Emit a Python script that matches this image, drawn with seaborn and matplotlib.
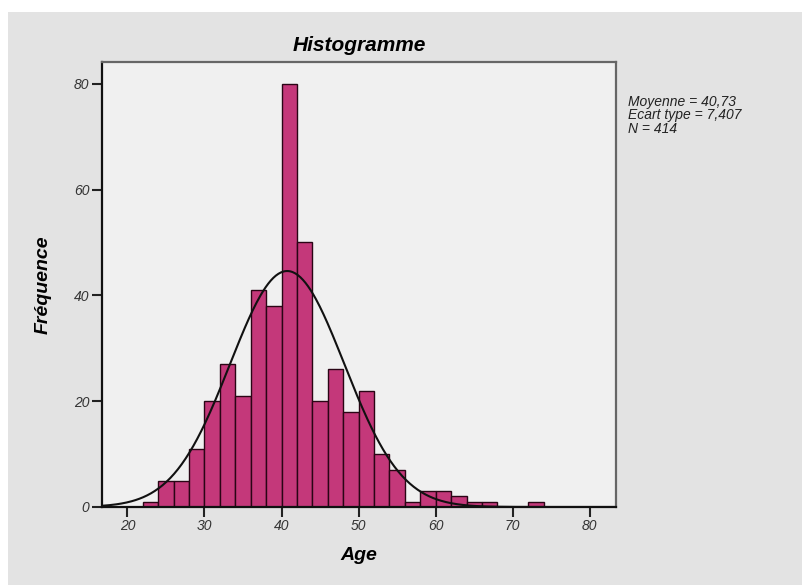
import numpy as np
import pandas as pd
import matplotlib
matplotlib.use("Agg")
import matplotlib.pyplot as plt
import seaborn as sns
from matplotlib.patches import Rectangle

# Data
bin_left = [22, 24, 26, 28, 30, 32, 34, 36, 38, 40, 42, 44, 46, 48, 50,
            52, 54, 56, 58, 60, 62, 64, 66, 68, 70, 72]
counts = [1, 5, 5, 11, 20, 27, 21, 41, 38, 80, 50, 20, 26, 18, 22,
          10, 7, 1, 3, 3, 2, 1, 1, 0, 0, 1]
bin_width = 2
mean_age = 40.73
sd_age = 7.407
n_obs = 414
x_ticks = [20, 30, 40, 50, 60, 70, 80]
y_ticks = [0, 20, 40, 60, 80]

sns.set_style("white")
plt.rcParams['font.family'] = ['Liberation Sans', 'DejaVu Sans']

df = pd.DataFrame({"Age": [b + bin_width / 2 for b in bin_left], "n": counts})
edges = bin_left + [bin_left[-1] + bin_width]

fig = plt.figure(figsize=(8.03, 5.85), dpi=100)
fig.patch.set_facecolor("white")
fig.patches.append(Rectangle((8 / 803, 0), 1, 1 - 12 / 585, transform=fig.transFigure,
                             facecolor="#e3e3e3", edgecolor="none", zorder=-10))

ax = fig.add_axes([102 / 803, 1 - 507 / 585, (616 - 102) / 803, (507 - 62) / 585])
ax.set_facecolor("#f0f0f0")

sns.histplot(data=df, x="Age", weights="n", bins=edges, ax=ax,
             color="#c4387a", alpha=1, edgecolor="#2a0515", linewidth=1.0)

# Normal curve from the stated statistics
xs = np.linspace(16.7, 83.4, 400)
ys = n_obs * bin_width / (sd_age * np.sqrt(2 * np.pi)) * np.exp(-0.5 * ((xs - mean_age) / sd_age) ** 2)
sns.lineplot(x=xs, y=ys, ax=ax, color="#111111", linewidth=1.5)

ax.set_xlim(16.7, 83.4)
ax.set_ylim(0, 84.1)
ax.set_xticks(x_ticks)
ax.set_yticks(y_ticks)
ax.set_xticklabels([str(t) for t in x_ticks], fontstyle="italic", fontsize=10, color="#333333")
ax.set_yticklabels([str(t) for t in y_ticks], fontstyle="italic", fontsize=10, color="#333333")
ax.tick_params(axis="both", direction="out", length=7, width=1.5, color="#222222", pad=2,
               bottom=True, left=True)

for s in ["left", "bottom"]:
    ax.spines[s].set_color("#111111")
    ax.spines[s].set_linewidth(1.6)
for s in ["top", "right"]:
    ax.spines[s].set_color("#666666")
    ax.spines[s].set_linewidth(1.6)

ax.set_xlabel("Age", fontsize=14, fontweight="bold", fontstyle="italic", labelpad=10, color="black")
ax.set_ylabel("Fréquence", fontsize=14, fontweight="bold", fontstyle="italic", labelpad=16, color="black")
ax.set_title("Histogramme", fontsize=15, fontweight="bold", fontstyle="italic", pad=8, color="black")

fig.text(628 / 803, 1 - 95 / 585,
         "Moyenne = 40,73\nEcart type = 7,407\nN = 414",
         fontsize=10, fontstyle="italic", color="#222222", va="top", ha="left",
         linespacing=0.95)

fig.savefig("out.png", dpi=100)
